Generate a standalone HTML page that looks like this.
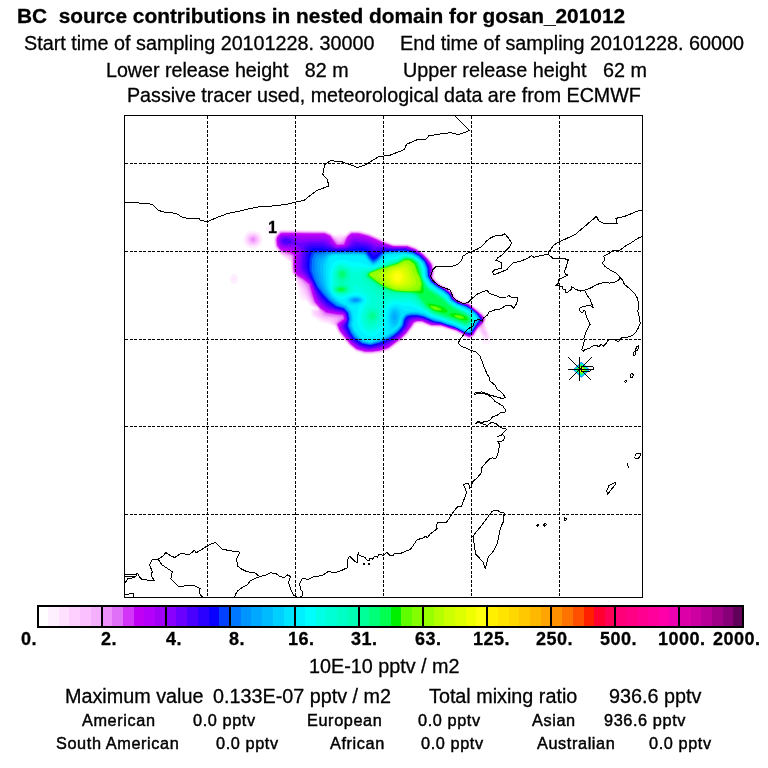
<!DOCTYPE html>
<html><head><meta charset="utf-8"><title>BC source contributions</title>
<style>
html,body{margin:0;padding:0;background:#fff;}
body{width:768px;height:768px;overflow:hidden;position:relative;font-family:"Liberation Sans",sans-serif;color:#000;}
.t{position:absolute;white-space:pre;line-height:1;margin:0;-webkit-text-stroke:0.3px #000;will-change:transform;}
.b{font-weight:bold;}
svg{position:absolute;left:0;top:0;}
</style></head><body>
<svg id="map" width="768" height="768" viewBox="0 0 768 768">
<!--PLUME0--><g id="plume" fill-rule="evenodd" stroke="none">
<path fill="#FFF0FF" d="M269.8 231.6 267.5 231.4 265.9 230.2 265.6 228.5 266.5 227.2 267.8 226.5 269.5 226.4 271.0 226.8 272.1 227.8 272.5 228.8 272.1 230.2 271.2 231.0ZM373.8 354.2 371.5 354.5 364.2 354.4 355.2 351.4 347.9 345.2 337.6 332.5 335.2 327.0 334.5 326.2 328.2 324.0 321.2 322.2 316.2 319.4 311.8 316.3 311.2 314.2 310.7 309.2 311.5 308.7 314.5 308.6 314.8 308.2 310.8 306.3 305.8 301.1 304.8 300.7 302.8 300.4 301.5 299.7 299.5 297.2 298.3 293.8 297.7 288.8 296.5 286.1 295.1 277.8 294.5 276.7 291.8 273.8 291.3 272.8 290.3 262.2 289.7 261.5 287.2 260.2 280.5 255.2 278.3 252.5 274.4 246.8 273.5 240.2 274.0 237.2 275.1 234.8 279.3 230.2 280.8 229.6 301.8 229.9 305.2 230.2 324.8 230.2 325.8 230.4 331.2 232.8 333.5 234.7 335.2 234.9 336.8 234.8 338.8 233.6 340.2 233.2 341.5 233.3 343.8 234.5 344.8 234.5 345.8 233.9 349.2 230.9 350.5 230.3 358.8 230.2 369.5 233.1 378.5 237.1 384.4 240.2 392.8 243.2 394.8 243.5 407.8 243.6 416.8 247.0 424.2 252.1 429.5 257.5 433.7 263.2 434.3 264.8 435.4 270.5 434.7 276.8 437.3 280.5 441.9 284.2 446.8 286.6 452.5 290.9 453.3 291.8 455.0 295.8 458.1 298.8 462.2 300.9 467.8 301.3 469.8 302.2 473.8 305.7 478.2 308.7 483.8 313.8 486.6 318.2 486.7 319.8 485.6 322.5 485.5 323.5 486.8 327.5 490.0 334.8 491.1 339.2 491.0 342.2 490.5 343.1 489.8 343.4 487.8 343.4 486.8 344.2 485.8 344.5 484.5 344.5 483.5 344.1 482.8 342.9 480.3 334.5 479.2 332.2 478.5 331.7 477.2 332.9 475.4 336.2 474.5 337.1 470.5 339.3 468.8 339.7 464.5 337.7 459.9 334.8 456.1 332.8 452.5 331.5 440.8 328.0 430.2 327.4 421.8 324.0 417.8 323.8 416.3 324.2 415.5 324.8 413.8 327.5 408.5 334.5 402.5 340.6 389.8 350.2 388.8 350.7 380.2 353.4ZM253.8 248.5 250.2 248.2 246.8 246.6 245.5 245.4 244.4 243.8 243.6 242.2 243.2 240.5 243.2 238.5 243.6 236.8 245.3 233.8 248.2 231.6 251.8 230.5 255.5 230.7 257.5 231.4 259.2 232.4 260.5 233.6 261.6 235.2 262.4 236.8 262.8 238.5 262.8 240.5 262.4 242.2 260.7 245.2 259.2 246.6 257.5 247.6ZM234.5 284.2 232.8 284.0 231.5 283.1 230.5 281.5 230.0 279.5 230.2 277.5 231.0 275.5 232.2 274.4 233.8 273.8 235.5 274.2 236.7 275.2 237.7 276.8 238.0 278.5 237.8 280.5 237.2 282.2 236.0 283.5Z"/>
<path fill="#FFE0FF" d="M372.8 353.8 364.5 353.9 355.2 350.8 348.5 345.2 339.2 333.8 337.7 331.8 335.6 326.8 334.8 325.8 328.2 322.5 321.8 320.8 314.5 316.3 313.2 315.2 312.1 311.5 312.2 310.2 312.8 309.8 316.5 309.3 316.8 309.1 316.8 308.5 315.4 307.5 311.2 305.5 304.8 297.7 302.2 295.9 301.2 294.5 300.4 292.5 299.9 289.2 297.8 285.7 295.5 277.5 291.8 272.8 291.0 262.5 290.7 261.5 281.1 254.8 278.7 252.2 275.0 246.8 274.0 240.2 274.4 237.5 275.2 235.5 279.5 230.7 280.8 230.2 301.8 230.3 305.2 230.7 324.8 230.7 331.2 233.4 333.5 235.4 337.8 236.0 340.2 235.4 342.8 235.6 344.8 235.3 345.8 234.7 349.3 231.5 350.5 230.8 358.8 230.7 369.5 233.6 378.2 237.4 384.5 240.7 393.2 243.8 394.8 244.0 407.5 244.1 416.5 247.4 423.8 252.5 429.2 257.8 433.1 263.2 433.9 265.2 434.9 270.5 434.1 276.8 434.6 277.8 436.9 280.8 441.5 284.5 446.5 287.0 452.2 291.2 452.9 292.2 454.5 296.0 457.7 299.2 462.2 301.5 467.5 301.7 469.5 302.6 473.5 306.0 477.8 309.1 483.5 314.2 486.2 318.5 486.2 319.8 485.1 322.2 484.9 323.5 485.9 328.2 488.1 333.2 489.0 336.5 489.1 339.2 488.8 339.8 488.2 340.2 486.2 339.9 484.8 340.4 484.5 340.2 479.9 331.2 479.2 330.4 478.5 330.5 477.5 331.5 475.0 335.8 474.2 336.7 470.5 338.7 468.8 339.1 464.8 337.4 459.8 334.2 455.2 331.9 443.4 328.2 440.2 327.4 430.5 327.0 421.8 323.5 417.5 323.4 416.2 323.7 415.2 324.4 413.4 327.2 408.1 334.2 402.2 340.2 389.8 349.6 388.5 350.3 380.2 352.9ZM254.8 246.5 251.8 246.6 249.2 245.8 246.8 243.9 245.5 241.5 245.2 238.8 246.1 236.2 247.8 234.1 250.5 232.7 253.5 232.3 256.5 233.0 259.0 234.8 260.5 237.5 260.8 240.5 259.7 243.2 257.5 245.4ZM234.5 280.3 233.5 280.3 233.0 279.5 233.1 278.2 233.8 277.6 234.5 277.7 235.0 278.5 235.0 279.5Z"/>
<path fill="#FDD0FF" d="M372.2 353.5 364.5 353.5 356.5 351.0 355.2 350.3 348.8 344.9 339.5 333.5 338.0 331.5 335.9 326.5 335.2 325.4 329.8 321.5 322.5 319.4 316.0 315.5 314.5 314.2 314.0 312.8 314.0 311.8 314.8 311.2 317.4 310.2 317.8 309.5 317.6 308.5 316.5 307.5 311.8 304.9 309.4 301.8 305.0 295.2 303.0 291.8 301.8 288.8 299.4 285.5 295.7 276.8 292.5 273.2 292.1 272.2 291.1 261.2 287.8 258.1 281.5 254.3 279.2 252.1 275.3 246.5 274.4 240.2 274.9 237.2 275.8 235.5 279.8 231.0 281.2 230.6 301.5 230.7 305.2 231.1 324.8 231.1 330.8 233.6 333.5 235.9 338.8 237.4 342.2 236.8 345.2 235.7 349.5 231.9 350.5 231.3 358.8 231.1 369.2 233.9 377.8 237.7 384.2 241.0 393.0 244.2 394.8 244.4 407.5 244.5 416.2 247.7 423.5 252.7 428.8 258.1 432.6 263.2 433.5 265.2 434.5 270.8 433.7 276.8 434.2 278.0 436.6 281.2 441.2 284.8 446.5 287.5 451.8 291.5 452.6 292.5 454.2 296.2 457.5 299.5 462.1 301.8 467.5 302.1 469.2 302.8 473.2 306.3 477.5 309.4 482.9 314.2 484.1 315.5 485.8 318.5 485.8 319.8 484.6 322.5 484.4 323.8 484.8 328.2 486.7 332.5 487.5 335.2 487.5 336.8 486.8 337.6 485.5 337.2 484.2 336.0 482.3 333.5 480.5 330.2 479.5 329.4 478.5 329.7 477.5 330.8 474.2 336.2 470.5 338.3 468.8 338.7 464.8 336.9 460.2 333.9 455.5 331.5 443.5 327.8 440.2 326.9 430.5 326.6 421.8 323.0 417.2 323.0 415.6 323.5 414.8 324.2 412.9 327.2 407.8 333.9 401.8 340.0 389.5 349.4 388.5 349.9 380.2 352.4ZM254.5 245.2 252.2 245.3 249.8 244.6 248.0 243.2 246.9 241.2 246.7 238.8 247.3 236.8 248.8 235.1 250.8 234.0 253.5 233.6 255.8 234.2 257.8 235.7 259.1 237.8 259.3 240.2 258.5 242.5 256.8 244.2Z"/>
<path fill="#FAC0FF" d="M371.8 353.2 364.5 353.1 356.8 350.7 355.5 350.1 349.2 344.8 339.8 333.4 338.3 331.2 335.8 325.5 331.8 320.5 330.5 319.9 323.2 318.0 318.9 315.5 317.3 314.2 317.1 313.5 318.4 310.5 318.2 308.5 317.2 307.4 312.7 304.5 311.7 303.5 306.5 294.8 303.5 288.4 300.8 284.9 295.9 276.5 292.8 272.8 292.2 269.2 291.7 261.8 291.2 260.1 288.5 257.2 282.5 254.2 279.8 252.2 275.7 246.5 274.8 240.2 275.3 237.5 276.2 235.6 280.2 231.3 281.2 231.0 324.8 231.5 330.8 234.1 332.8 236.1 333.8 236.7 338.2 238.7 339.5 239.0 341.5 238.4 345.2 236.3 350.5 231.7 352.2 231.5 358.8 231.5 369.2 234.3 377.8 238.1 384.2 241.4 392.8 244.5 394.8 244.8 407.5 244.9 415.8 248.0 423.4 253.2 428.5 258.3 432.4 263.5 433.1 265.2 434.2 270.8 433.3 276.2 433.3 277.2 436.4 281.5 441.1 285.2 446.2 287.7 451.5 291.7 452.2 292.5 453.9 296.5 457.3 299.8 461.8 302.1 467.5 302.5 469.2 303.3 472.9 306.5 477.2 309.6 482.8 314.5 483.8 315.8 485.4 318.5 485.4 319.8 484.0 323.2 483.6 327.8 483.8 328.8 485.5 332.3 485.8 333.8 485.7 334.5 484.8 334.6 483.8 333.8 482.5 331.9 481.1 329.2 480.5 328.7 479.5 328.7 478.4 329.2 477.2 330.5 473.8 336.0 470.8 337.7 469.2 338.3 468.2 338.1 465.2 336.6 460.5 333.7 455.5 331.1 441.5 326.8 430.8 326.3 421.8 322.7 418.2 322.6 416.2 322.9 414.6 323.8 412.7 326.8 407.5 333.7 401.8 339.4 389.5 348.9 388.2 349.6 380.2 352.0ZM253.5 244.2 251.5 244.0 249.8 243.2 248.6 241.8 248.0 240.2 248.0 238.5 248.8 236.8 250.3 235.5 252.2 234.9 254.2 234.9 256.2 235.8 257.4 237.2 258.0 238.8 257.9 240.8 256.9 242.5 255.5 243.6Z"/>
<path fill="#F5B0FD" d="M370.8 352.8 364.5 352.7 356.8 350.3 354.8 349.1 349.4 344.5 338.9 331.5 335.2 323.5 334.5 319.5 332.8 318.8 324.5 317.0 322.5 316.0 320.6 314.5 318.5 308.2 317.5 307.1 313.1 303.8 312.1 302.5 308.5 295.8 304.8 287.3 293.2 272.7 292.6 269.2 292.1 260.8 290.7 257.8 289.9 256.8 288.8 256.1 283.2 253.7 280.4 252.2 276.1 246.5 275.2 240.2 275.6 237.8 276.5 235.8 280.2 231.8 281.5 231.4 324.8 231.9 330.5 234.3 333.8 237.4 338.2 240.2 339.8 240.6 340.8 240.4 341.8 239.8 350.5 232.2 351.8 231.9 358.5 231.9 368.8 234.6 377.8 238.5 383.8 241.7 392.8 244.9 394.8 245.2 407.5 245.2 415.8 248.4 423.2 253.4 428.2 258.5 432.0 263.5 432.7 265.2 433.8 270.8 432.9 277.2 433.6 278.5 436.2 281.8 441.0 285.5 446.2 288.1 451.2 291.9 452.0 292.8 453.8 296.8 457.2 300.1 461.8 302.4 467.5 302.9 468.8 303.5 472.8 306.8 477.2 310.1 482.5 314.7 483.5 315.9 485.1 318.5 485.1 319.8 483.8 322.5 483.1 325.5 482.3 327.2 481.5 327.6 479.5 328.0 478.2 328.8 475.8 331.8 473.8 335.5 470.8 337.3 469.2 337.9 468.2 337.7 465.2 336.2 460.8 333.5 455.8 330.8 441.8 326.5 440.2 326.2 430.8 326.0 421.8 322.3 418.2 322.2 416.2 322.5 414.4 323.5 412.5 326.5 407.2 333.5 401.5 339.3 389.2 348.7 387.8 349.4 380.2 351.7ZM254.2 242.9 252.8 243.0 251.5 242.7 250.2 241.9 249.5 240.8 249.2 239.5 249.5 238.2 250.2 237.1 251.5 236.3 252.8 236.0 254.5 236.3 255.8 237.1 256.5 238.2 256.8 239.5 256.5 240.9 255.5 242.2Z"/>
<path fill="#EE90FA" d="M373.5 352.2 371.2 352.5 364.8 352.4 356.8 350.0 354.8 348.7 349.6 344.2 338.9 330.8 336.1 323.8 336.3 322.5 338.2 319.2 338.2 318.5 336.8 317.9 326.2 316.0 323.8 315.0 322.5 313.7 318.4 307.5 313.3 302.8 309.6 295.2 306.3 286.5 301.4 280.8 297.2 276.9 293.5 272.5 292.9 269.2 292.5 260.2 291.5 256.8 290.8 256.1 288.8 254.9 283.5 253.1 280.7 251.8 276.5 246.5 276.0 243.8 275.6 240.2 275.9 238.2 276.7 236.2 280.2 232.3 281.5 231.8 324.8 232.3 330.5 234.8 332.8 237.4 336.2 240.4 338.2 241.8 339.2 242.0 341.2 241.8 342.2 241.4 346.9 235.8 350.7 232.5 352.2 232.2 358.5 232.3 368.8 235.0 377.5 238.8 383.8 242.0 392.8 245.2 394.5 245.5 407.5 245.6 415.5 248.6 423.2 253.8 427.8 258.5 431.7 263.8 432.4 265.5 433.4 270.8 432.5 277.2 433.2 278.5 435.8 281.9 440.8 285.8 445.8 288.3 451.0 292.2 451.8 293.2 453.5 297.0 457.2 300.5 461.8 302.7 467.5 303.2 468.8 303.8 477.2 310.5 482.2 314.9 483.3 316.2 484.7 318.5 484.7 319.8 481.8 325.9 481.2 326.6 479.2 327.5 477.8 328.6 475.6 331.5 473.3 335.5 470.5 337.1 469.2 337.5 468.2 337.3 465.5 336.0 461.0 333.2 455.8 330.5 441.8 326.2 440.2 325.9 431.2 325.7 427.2 324.2 422.2 322.0 418.2 321.8 416.2 322.2 414.2 323.2 412.0 326.5 407.0 333.2 401.2 339.1 389.2 348.3 387.5 349.1 380.2 351.3ZM253.5 241.6 251.8 241.3 250.8 240.2 251.0 238.5 252.2 237.5 253.8 237.5 254.8 238.2 255.2 238.8 255.0 240.5 254.4 241.2Z"/>
<path fill="#E070F8" d="M373.2 351.9 371.2 352.1 364.8 352.0 357.2 349.7 354.8 348.2 349.8 343.8 340.5 332.5 338.8 329.8 336.8 324.8 336.7 323.8 337.5 322.6 341.5 318.5 341.7 317.8 341.3 317.2 338.8 316.4 328.8 315.0 325.5 314.2 321.2 310.2 318.5 307.0 314.2 302.6 311.0 295.2 307.8 285.5 302.5 280.2 297.5 276.6 293.8 272.2 293.3 269.2 293.0 263.8 293.0 260.2 292.5 256.2 291.5 255.2 289.2 253.9 283.8 252.5 280.8 251.4 277.0 246.5 276.4 244.2 276.0 240.5 276.2 238.5 276.9 236.5 280.5 232.6 281.8 232.2 324.8 232.7 330.3 235.2 336.5 242.2 337.8 243.2 339.2 243.4 342.9 242.8 346.9 236.5 350.8 232.9 352.2 232.6 358.5 232.7 368.5 235.2 377.5 239.2 383.8 242.4 392.8 245.6 394.5 245.8 407.5 245.9 415.2 248.8 422.8 254.0 427.7 258.8 431.4 263.8 432.0 265.5 433.1 270.8 432.2 277.2 432.8 278.5 435.6 282.2 440.4 285.8 445.8 288.6 450.8 292.4 451.6 293.5 453.2 297.0 456.8 300.6 461.5 302.8 467.2 303.5 468.5 304.0 476.8 310.6 482.1 315.2 484.4 318.5 484.4 319.8 482.2 324.4 480.8 325.8 478.8 327.1 477.5 328.5 475.3 331.5 473.2 335.2 470.5 336.8 469.2 337.2 465.5 335.7 461.0 332.8 455.9 330.2 449.2 328.3 441.8 325.8 440.2 325.6 431.2 325.4 427.2 323.9 422.2 321.6 418.2 321.5 416.2 321.8 413.8 322.9 411.8 326.2 406.8 332.8 401.2 338.6 389.1 347.8 387.5 348.7 380.2 350.9Z"/>
<path fill="#D235F8" d="M373.2 351.5 371.2 351.7 365.2 351.7 357.6 349.5 355.5 348.3 350.8 344.4 339.8 330.9 337.3 324.8 337.3 324.2 337.8 323.3 343.5 318.8 343.6 317.8 342.8 315.8 341.8 315.3 336.2 314.7 326.2 313.0 320.5 308.7 315.0 302.5 314.4 301.5 312.2 295.2 309.1 284.5 302.9 279.2 297.8 276.2 294.3 272.2 293.8 269.2 293.4 264.2 293.6 256.5 293.3 255.5 292.5 254.7 289.8 253.0 281.2 251.0 277.5 246.5 276.8 243.8 276.5 239.1 277.3 236.8 280.5 233.2 281.8 232.7 324.8 233.2 330.2 235.6 336.2 243.4 337.5 244.5 338.8 244.6 342.8 244.2 343.8 243.8 347.2 236.9 350.8 233.5 352.2 233.1 358.5 233.1 368.5 235.7 377.2 239.5 383.5 242.7 392.8 245.9 394.5 246.2 407.2 246.2 414.8 249.0 417.2 250.3 422.6 254.2 427.3 258.8 431.0 263.8 431.7 265.5 432.7 270.8 431.9 276.2 431.9 277.5 435.5 282.4 440.5 286.2 445.5 288.7 450.5 292.4 451.4 293.5 453.2 297.4 456.8 300.8 461.8 303.2 467.2 303.8 468.5 304.3 476.8 310.9 481.8 315.3 483.1 316.8 484.1 318.8 483.9 320.2 482.2 323.6 477.2 328.5 475.0 331.5 473.2 334.7 470.8 336.3 469.2 336.9 465.5 335.4 461.2 332.6 455.8 329.9 449.2 328.0 441.8 325.6 440.2 325.3 431.2 325.0 422.2 321.3 417.8 321.1 416.2 321.4 414.5 322.0 413.5 322.7 411.3 326.2 406.4 332.8 400.8 338.4 388.8 347.6 387.2 348.4 380.2 350.6Z"/>
<path fill="#C000F5" d="M372.5 351.2 365.2 351.2 356.8 348.7 350.5 343.5 341.3 332.2 339.6 329.5 338.2 325.8 337.9 324.5 338.7 323.5 344.3 319.2 344.4 317.8 343.3 314.8 342.5 314.5 336.5 313.9 326.7 312.2 320.8 308.2 315.8 302.5 315.1 301.2 312.9 294.8 309.8 284.1 303.5 278.7 297.9 275.5 294.8 271.8 294.0 263.8 294.5 256.5 294.1 254.8 293.2 253.9 290.2 252.0 281.5 250.2 277.8 245.8 277.2 243.2 276.9 240.2 277.1 238.8 277.9 236.8 280.7 233.8 281.8 233.4 286.2 233.3 301.8 233.4 304.5 233.7 324.8 233.8 329.8 236.2 333.8 241.9 336.1 244.5 337.2 245.2 338.5 245.3 343.5 244.9 344.3 244.5 347.5 237.4 348.5 236.3 351.2 234.1 352.5 233.7 358.2 233.8 368.1 236.2 377.3 240.2 383.2 243.0 392.5 246.2 394.2 246.5 407.2 246.5 414.4 249.2 416.8 250.5 422.5 254.5 427.2 259.2 430.6 263.8 431.4 265.8 432.4 270.8 431.6 275.8 431.6 277.5 432.8 279.5 435.3 282.5 440.1 286.2 445.5 289.0 450.2 292.5 451.2 293.7 453.0 297.5 456.5 300.9 461.5 303.3 467.2 304.0 468.2 304.5 479.1 313.2 482.2 316.2 483.8 318.8 483.6 320.2 482.0 323.2 477.5 327.6 474.9 331.2 473.0 334.5 470.8 336.0 469.2 336.5 465.5 335.1 461.4 332.5 456.2 329.7 448.8 327.7 441.8 325.3 440.2 325.0 431.5 324.8 427.5 323.3 422.5 321.0 418.2 320.8 416.2 321.0 414.2 321.7 413.2 322.4 410.8 326.1 406.1 332.5 400.5 338.2 388.7 347.2 386.8 348.1 380.0 350.2Z"/>
<path fill="#B400FA" d="M371.8 350.8 365.5 350.8 358.5 348.8 357.0 348.2 350.8 343.2 341.8 331.9 340.2 329.3 338.9 325.8 338.7 324.8 339.4 323.8 344.8 319.5 344.9 317.8 343.8 314.5 342.5 313.9 334.5 312.9 327.2 311.4 321.2 307.5 317.1 302.8 316.0 301.2 314.9 298.2 310.8 284.8 310.2 283.5 303.8 277.9 298.5 274.8 295.9 271.5 295.4 268.8 295.1 263.8 295.7 256.2 295.6 254.8 295.2 253.8 293.2 252.0 290.8 250.6 282.2 249.0 279.8 246.9 278.7 245.5 277.9 242.8 277.7 239.2 278.5 237.3 280.8 234.8 282.2 234.2 286.2 234.1 303.8 235.1 324.2 235.0 328.9 236.8 333.3 242.5 335.8 245.2 336.8 245.8 338.2 245.9 343.5 245.6 344.7 245.2 345.4 244.2 348.5 237.8 351.8 235.2 353.2 234.9 357.5 234.9 367.7 237.2 383.2 243.7 392.5 246.6 394.2 246.8 407.2 246.9 413.8 249.3 416.3 250.5 422.2 254.6 426.8 259.2 430.2 263.9 431.1 265.8 432.0 270.8 431.3 275.8 431.3 277.5 432.5 279.4 435.0 282.5 439.8 286.2 445.4 289.2 450.2 292.8 451.0 293.8 452.8 297.7 456.6 301.2 461.5 303.4 467.2 304.3 468.2 304.8 478.7 313.2 481.9 316.2 483.5 318.8 483.3 320.2 481.8 322.9 477.5 327.2 474.6 331.2 472.8 334.2 471.5 335.3 469.2 336.2 465.5 334.7 461.3 332.2 456.2 329.5 449.2 327.5 441.8 325.0 431.2 324.3 422.2 320.5 417.8 320.4 415.8 320.7 413.8 321.3 412.6 322.2 410.1 326.2 405.8 332.2 400.2 337.8 388.2 346.8 386.8 347.5 379.8 349.7Z"/>
<path fill="#A000F5" d="M371.8 350.2 365.5 350.1 357.5 347.7 351.2 342.6 345.5 335.5 341.4 329.8 339.8 325.5 340.2 324.5 344.5 320.7 345.4 319.5 345.5 318.5 345.2 316.8 344.6 314.8 343.9 313.8 340.2 312.9 332.5 311.7 327.5 310.4 321.8 306.6 317.8 302.0 316.8 300.4 314.5 294.6 311.3 284.5 310.6 283.2 304.2 277.0 299.2 273.5 297.4 270.8 297.0 268.5 296.7 263.5 297.3 254.8 297.1 253.5 296.5 252.4 294.8 250.7 292.5 249.2 290.8 248.7 283.2 247.8 280.8 246.3 279.5 244.8 278.6 242.5 278.5 239.5 279.2 237.7 281.2 235.8 282.8 235.1 286.8 235.0 291.2 235.3 298.2 236.6 303.2 237.1 312.2 236.8 324.1 236.8 327.8 238.2 332.5 243.2 335.4 245.8 336.5 246.4 337.8 246.5 344.8 245.9 346.0 244.8 349.5 239.2 350.4 238.2 353.2 236.7 357.2 236.7 367.2 238.7 374.8 242.0 392.5 247.1 406.8 247.2 413.5 249.5 416.2 250.8 422.0 254.8 426.6 259.5 429.8 264.1 430.7 266.2 431.5 270.8 431.0 275.5 431.1 277.5 432.5 279.8 434.8 282.7 439.9 286.5 445.2 289.3 449.8 292.8 450.7 293.8 452.8 298.0 456.5 301.3 461.5 303.6 466.8 304.5 468.2 305.1 478.4 313.2 481.8 316.5 483.1 318.8 482.9 320.2 481.5 322.7 477.5 326.7 474.5 330.8 472.5 334.2 470.8 335.3 469.2 335.8 465.5 334.4 456.2 329.2 448.9 327.2 441.8 324.8 431.5 324.0 422.2 320.1 417.2 319.9 414.2 320.5 412.6 321.2 411.6 322.2 408.0 328.2 405.2 332.0 403.1 334.2 399.3 337.8 391.8 343.5 387.2 346.6 382.6 348.2 379.5 349.0Z"/>
<path fill="#8A00FF" d="M371.5 349.5 365.8 349.4 358.5 347.2 352.2 342.5 350.3 340.5 343.2 330.8 342.0 328.8 341.1 326.5 341.1 325.5 341.4 324.8 345.2 320.8 346.0 319.5 345.8 317.5 344.6 313.8 343.8 313.2 342.5 312.7 334.5 311.3 327.8 309.2 322.8 305.7 319.2 301.6 317.8 299.7 315.5 294.5 311.2 283.0 304.8 276.1 300.5 272.5 299.2 270.2 298.8 268.2 298.6 263.5 299.2 253.8 298.9 252.2 298.2 250.5 296.3 248.5 293.8 247.2 291.8 246.9 284.5 246.6 282.8 246.0 281.2 245.0 279.8 243.2 279.3 240.2 279.7 238.5 281.2 237.0 283.2 236.0 288.2 236.0 291.8 236.8 298.5 239.0 302.5 239.6 311.8 238.8 323.8 238.9 326.8 240.0 331.3 243.8 334.9 246.5 336.2 247.1 337.5 247.2 344.2 246.9 345.5 246.5 347.1 245.2 351.8 239.6 353.8 238.7 356.8 238.6 366.8 240.4 369.5 241.4 375.2 244.1 383.8 245.6 392.2 247.5 406.5 247.7 413.3 249.8 416.0 251.2 421.5 254.8 426.2 259.5 427.6 261.5 429.8 265.1 430.6 267.5 431.0 271.2 430.6 275.5 430.8 277.5 432.4 280.2 434.7 282.8 440.1 286.8 445.2 289.5 449.8 293.1 450.7 294.2 452.5 297.9 456.0 301.2 458.2 302.4 461.5 303.8 466.8 304.8 467.8 305.2 477.0 312.2 481.4 316.5 482.6 318.5 482.6 319.8 481.4 322.2 477.3 326.5 472.4 333.8 471.2 334.8 469.2 335.4 465.5 334.1 456.2 329.0 448.6 326.8 441.5 324.4 431.5 323.6 422.2 319.6 416.8 319.2 413.2 320.0 411.8 320.6 410.6 321.8 407.3 327.8 402.8 333.5 398.9 337.2 391.5 342.8 386.8 345.7 382.5 347.3 379.2 348.2Z"/>
<path fill="#6A00FF" d="M370.2 348.8 365.8 348.5 359.1 346.5 352.8 342.0 350.8 340.0 345.5 332.5 343.2 328.8 342.4 326.8 342.6 325.2 345.8 320.9 346.5 319.5 346.2 317.2 345.0 313.5 343.8 312.5 342.2 311.8 334.5 310.3 328.6 308.2 324.2 305.2 321.6 302.5 319.4 299.8 317.8 297.0 314.5 290.0 311.6 282.5 305.8 275.5 302.7 272.2 301.1 269.8 300.7 267.8 300.6 263.8 301.4 252.5 300.9 249.8 299.8 247.4 298.2 245.6 295.8 244.7 293.5 244.7 287.2 245.3 284.8 245.2 283.2 244.5 281.5 243.2 280.6 241.5 280.7 239.5 281.7 238.2 282.8 237.5 284.5 237.1 286.8 237.1 289.1 237.5 292.5 238.8 297.2 242.0 299.5 242.7 302.8 242.6 311.5 241.0 323.5 241.1 325.5 241.7 334.1 247.2 336.5 247.9 344.2 247.6 345.8 247.3 348.2 245.8 353.5 241.2 354.5 240.8 355.8 240.7 366.8 242.4 370.2 243.7 375.2 246.5 383.2 246.6 393.2 248.3 406.2 248.1 413.2 250.2 415.8 251.6 420.9 254.8 425.7 259.5 426.9 261.2 429.2 264.9 430.0 267.2 430.5 271.2 430.2 275.5 430.5 277.5 432.1 280.2 434.4 282.8 439.8 286.9 445.2 289.8 449.5 293.2 450.5 294.3 452.5 298.2 455.8 301.2 457.8 302.5 461.2 303.8 466.5 305.0 467.8 305.5 476.8 312.3 481.0 316.5 482.2 318.5 482.2 319.8 481.0 321.8 477.2 326.2 472.2 333.6 470.8 334.6 469.2 335.0 465.5 333.8 455.8 328.6 448.2 326.4 441.5 324.1 431.8 323.1 422.2 319.0 416.8 318.5 412.5 319.3 410.8 320.1 409.6 321.2 406.7 327.2 402.4 332.8 398.8 336.2 393.5 340.3 386.8 344.6 383.5 345.9 379.2 347.3Z"/>
<path fill="#4A00FF" d="M286.8 243.8 284.8 243.6 283.2 242.4 282.6 241.5 282.5 240.5 283.2 239.2 285.2 238.6 287.8 238.8 290.1 239.8 291.4 241.2 291.7 242.2 291.1 242.8 289.5 243.5ZM371.2 347.9 369.5 348.0 366.5 347.7 360.5 346.1 357.8 344.6 352.2 340.2 347.5 333.9 343.7 327.2 343.8 325.5 346.5 321.0 347.0 319.5 346.6 316.5 345.5 313.2 344.2 312.0 342.5 311.1 334.8 309.4 328.8 306.8 324.5 303.5 319.8 297.9 315.2 289.5 312.2 282.2 304.9 272.2 302.9 268.5 302.7 264.2 303.0 258.5 303.8 252.2 303.7 246.8 304.5 245.7 307.8 244.2 311.2 243.5 322.2 243.3 324.5 243.9 334.2 248.3 336.2 248.7 338.5 248.8 344.8 248.4 346.8 248.0 349.3 246.8 354.8 243.4 356.5 243.0 364.8 244.0 367.5 244.7 370.2 246.0 373.8 248.8 374.8 249.2 383.5 247.7 392.8 248.8 405.8 248.6 413.2 250.7 415.8 252.1 420.5 255.0 425.2 259.6 426.4 261.2 428.7 265.2 429.5 267.5 429.9 271.8 429.7 275.5 430.0 277.2 431.7 280.2 434.1 282.8 439.5 286.9 444.9 289.8 449.5 293.5 450.3 294.5 452.5 298.5 456.2 301.7 461.2 304.0 467.2 305.5 472.5 309.2 477.5 313.2 480.9 316.8 481.8 318.5 481.7 319.8 480.7 321.5 477.2 325.6 471.8 333.5 470.8 334.2 469.5 334.5 465.8 333.6 458.2 329.5 454.8 328.0 448.2 326.1 441.2 323.7 434.5 323.1 432.2 322.6 422.8 318.6 416.8 317.8 411.8 318.5 409.8 319.4 408.6 320.5 405.9 326.8 401.8 332.2 398.5 335.4 393.5 339.2 388.8 342.3 383.5 344.9 379.2 346.3Z"/>
<path fill="#2C00FF" d="M371.5 346.9 369.8 347.1 367.5 346.8 361.2 345.4 358.5 343.9 352.7 339.5 348.4 333.5 345.1 327.2 345.1 325.5 347.2 321.0 347.6 319.2 346.7 314.5 346.0 312.8 344.2 311.1 342.8 310.3 335.2 308.5 329.2 305.3 326.7 303.5 324.5 301.4 319.8 295.4 315.8 288.8 312.7 281.8 307.0 272.5 305.0 267.2 304.8 265.2 305.3 257.5 307.0 248.8 307.5 247.8 308.4 247.2 310.5 246.2 312.5 245.8 321.2 245.8 333.5 249.2 338.2 249.6 346.8 249.0 349.9 248.2 355.8 245.9 358.2 245.7 364.8 246.2 367.5 246.9 369.8 248.3 373.2 251.8 374.2 252.4 375.2 252.2 382.3 249.2 383.8 248.8 393.2 249.5 405.5 249.2 412.9 251.2 420.2 255.3 425.9 261.2 428.2 265.5 428.9 267.5 429.4 276.5 430.7 279.2 432.7 281.8 437.5 285.8 444.5 289.9 449.2 293.6 450.2 294.7 452.5 298.9 455.8 301.7 457.8 302.9 461.2 304.2 467.1 305.8 473.1 309.8 477.2 313.2 480.7 317.2 481.3 318.5 481.3 319.5 480.5 320.8 477.2 325.0 471.8 332.9 470.8 333.8 469.5 334.1 465.8 333.3 454.8 327.7 447.8 325.7 441.2 323.4 434.5 322.6 432.5 322.1 422.8 317.9 417.2 317.0 411.5 317.5 409.0 318.5 407.8 319.4 406.8 321.2 405.1 326.2 404.1 327.8 400.2 332.7 394.5 337.4 389.2 341.0 383.3 343.8 379.2 345.2Z"/>
<path fill="#0A00FF" d="M371.5 345.9 369.8 346.2 368.5 346.0 361.5 344.4 359.2 343.1 353.2 338.7 349.1 332.8 346.3 326.8 346.4 325.2 347.8 321.2 348.1 319.2 347.2 314.2 346.4 312.5 344.5 310.5 343.2 309.5 335.5 307.5 328.2 302.7 325.2 299.8 321.8 295.9 316.7 288.5 308.5 272.2 307.2 266.2 307.5 257.8 309.5 250.8 310.0 249.8 310.8 249.1 313.2 248.3 319.5 248.2 333.2 250.2 337.8 250.5 347.5 249.9 358.5 248.2 365.2 248.5 366.8 248.9 368.2 249.8 372.5 255.2 373.8 256.0 375.2 255.6 382.5 250.7 384.2 250.0 393.2 250.1 405.5 249.7 412.8 251.6 419.8 255.6 425.6 261.5 428.4 267.8 428.9 276.2 430.4 279.2 432.3 281.8 437.2 285.9 444.5 290.1 449.1 293.8 449.9 294.8 452.4 299.2 455.8 301.9 457.8 303.1 461.2 304.4 466.8 306.1 473.1 310.2 477.2 313.5 480.2 317.2 480.9 318.5 480.4 320.2 476.8 324.9 471.7 332.5 470.8 333.4 469.5 333.7 465.8 332.9 454.8 327.5 447.8 325.4 440.8 323.0 434.8 322.2 432.8 321.6 423.2 317.4 417.5 316.2 410.8 316.6 408.2 317.5 406.9 318.5 405.6 320.8 404.3 325.5 403.4 327.2 399.8 331.8 394.2 336.5 388.8 340.0 382.8 342.9 380.2 343.8Z"/>
<path fill="#0040FF" d="M370.8 345.2 368.2 345.1 361.8 343.6 353.5 337.8 350.0 332.5 347.4 326.2 347.4 324.8 348.7 319.2 347.7 313.8 346.9 312.2 343.5 308.7 335.8 306.5 329.2 301.6 322.2 294.2 317.2 287.6 312.5 277.8 309.7 270.8 309.4 266.2 309.7 258.8 311.7 252.8 312.8 251.2 314.8 250.8 337.8 251.2 354.2 250.5 365.2 250.7 366.7 251.5 370.6 257.2 372.5 259.0 373.5 259.5 376.2 258.2 383.0 251.8 384.8 250.9 405.2 250.3 412.5 252.0 419.5 255.8 425.1 261.5 427.8 267.8 428.4 276.2 430.0 279.2 431.9 281.8 436.8 285.9 444.2 290.2 448.8 294.0 449.8 295.2 452.1 299.2 453.6 300.5 457.8 303.3 466.2 306.2 471.4 309.2 476.5 313.2 480.4 318.2 480.5 318.8 480.0 319.8 471.8 331.8 470.8 333.0 469.5 333.3 465.8 332.6 454.8 327.2 447.8 325.1 440.5 322.5 434.2 321.5 423.2 316.8 417.5 315.5 411.8 315.5 409.9 315.8 407.2 316.7 406.2 317.4 404.5 320.5 403.6 324.8 402.9 326.5 399.2 331.3 393.8 335.7 388.2 339.4 382.2 342.1 379.8 342.9Z"/>
<path fill="#0078FF" d="M371.2 344.5 368.8 344.6 362.2 343.0 354.2 337.4 350.7 332.2 348.2 326.2 348.1 324.8 349.2 318.8 348.3 313.8 347.6 312.2 343.8 308.1 336.2 305.7 329.5 300.5 323.2 293.5 318.2 286.9 314.5 279.2 311.6 270.5 312.0 259.5 313.8 254.3 314.5 253.4 315.5 253.1 326.2 252.0 331.8 251.8 353.5 251.4 364.5 251.8 365.8 252.3 369.8 258.2 372.5 260.8 373.5 261.2 376.8 259.3 383.4 252.5 385.2 251.5 396.2 250.9 405.2 250.8 412.5 252.5 419.2 256.2 424.8 261.8 427.4 268.2 428.0 276.2 430.0 279.8 431.8 282.2 436.8 286.3 444.1 290.5 448.6 294.2 449.5 295.2 451.8 299.2 452.8 300.2 457.5 303.4 466.2 306.5 471.4 309.5 476.5 313.5 479.9 318.2 480.0 318.8 479.5 319.8 471.5 331.7 470.5 332.7 469.2 333.0 465.5 332.2 454.8 326.9 447.9 324.8 440.2 322.1 434.5 321.2 423.2 316.2 417.5 314.9 411.8 314.9 409.7 315.2 406.8 316.0 405.8 316.6 403.8 320.1 402.9 324.8 402.4 326.2 398.7 330.8 394.5 334.4 388.2 338.5 382.2 341.2 379.5 342.2Z"/>
<path fill="#0094FF" d="M370.2 344.2 368.5 344.0 362.2 342.4 354.5 336.6 351.2 331.5 348.9 325.8 348.9 324.5 349.9 318.8 348.9 313.5 348.2 311.8 345.5 308.7 344.2 307.6 336.5 304.8 330.2 299.8 324.0 292.5 320.2 286.8 316.8 278.8 314.4 270.2 314.8 260.2 315.7 257.2 316.5 255.8 326.2 253.1 332.2 252.4 353.2 252.1 364.2 252.4 365.2 252.8 365.8 253.4 368.8 257.9 370.5 259.8 372.5 261.7 373.5 262.0 374.8 261.5 377.2 259.8 383.6 253.2 385.2 252.1 396.2 251.3 405.2 251.2 412.2 252.8 418.9 256.5 424.3 261.8 427.0 268.2 427.7 276.5 431.3 282.2 436.8 286.6 444.0 290.8 448.5 294.5 449.5 295.7 451.6 299.5 452.7 300.5 457.5 303.7 465.5 306.6 471.2 309.7 476.2 313.6 479.5 318.2 479.5 318.8 479.0 319.8 471.5 331.2 470.5 332.3 469.2 332.7 465.5 331.9 454.5 326.5 447.8 324.5 440.2 321.7 435.5 320.9 433.5 320.3 423.5 315.9 417.5 314.4 411.8 314.3 409.5 314.6 406.5 315.5 405.5 316.2 403.5 319.5 402.5 324.5 402.0 325.8 398.3 330.5 393.5 334.4 387.8 338.0 381.5 340.8 378.5 341.9Z"/>
<path fill="#00A8FF" d="M371.2 343.6 368.8 343.6 362.5 341.9 355.2 336.2 351.9 331.5 349.7 325.8 349.6 324.5 350.5 318.8 349.7 313.5 348.8 311.5 344.8 307.3 337.2 304.1 330.9 299.2 329.1 297.2 323.8 289.8 321.3 284.8 319.7 280.2 317.4 270.5 317.2 267.8 317.6 260.8 318.2 258.9 319.2 258.0 326.4 254.2 332.5 253.0 352.8 252.7 363.5 253.0 364.5 253.2 365.5 253.9 369.8 259.8 372.2 262.1 373.5 262.6 374.8 262.2 377.5 260.4 384.1 253.5 385.5 252.6 396.5 251.8 405.2 251.7 411.8 253.2 418.6 256.8 424.0 262.2 426.5 268.2 427.3 276.5 431.1 282.5 436.8 287.0 443.8 291.2 448.2 294.7 449.1 295.8 451.2 299.5 452.5 300.8 457.5 304.0 465.2 306.8 471.2 310.1 476.2 314.1 479.0 318.2 478.8 319.5 475.8 323.8 472.8 328.8 470.5 331.8 469.2 332.4 465.2 331.4 454.5 326.2 447.8 324.2 440.2 321.4 433.5 319.8 423.5 315.4 417.2 313.8 412.2 313.8 409.5 314.1 406.5 314.9 405.2 315.9 403.0 319.5 402.1 324.2 401.5 325.6 397.8 330.2 393.8 333.4 387.8 337.2 382.2 339.9 378.8 341.2ZM356.9 301.2 357.6 300.8 358.2 300.2 357.9 299.5 357.2 299.1 354.8 298.9 353.8 299.2 353.1 299.8 353.2 300.5 354.2 301.2 355.5 301.3Z"/>
<path fill="#00BCFF" d="M370.8 343.2 369.0 343.2 362.8 341.5 355.8 335.8 352.6 331.2 350.5 325.8 350.4 324.5 351.3 318.8 350.4 313.5 349.6 311.5 345.4 306.8 337.5 303.3 331.5 298.4 329.9 296.5 325.1 289.2 322.8 283.5 321.2 276.8 320.1 269.2 320.2 263.5 320.5 261.9 321.1 260.8 325.6 256.2 326.9 255.2 330.1 254.2 333.5 253.5 353.2 253.3 363.8 253.7 365.5 254.6 368.2 258.7 369.8 260.6 372.2 262.7 373.5 263.2 374.8 262.8 377.8 260.8 384.2 254.2 385.8 253.1 396.5 252.3 405.2 252.2 412.2 253.8 418.2 257.2 423.6 262.5 426.1 268.2 426.8 276.5 429.3 280.8 430.8 282.8 436.5 287.3 443.5 291.4 448.1 295.2 448.9 296.2 450.9 299.8 452.2 301.0 457.2 304.2 465.2 307.2 471.0 310.5 475.8 314.3 478.5 318.2 478.3 319.5 475.3 323.8 472.5 328.6 470.4 331.5 469.8 331.9 468.8 332.0 465.2 331.1 454.5 325.9 447.8 323.8 440.2 321.0 435.5 319.9 431.2 318.5 423.5 314.8 417.2 313.3 412.2 313.2 409.5 313.6 406.2 314.5 404.8 315.6 402.6 319.2 401.6 324.2 401.0 325.5 397.5 329.7 393.5 333.0 387.5 336.7 382.8 338.9 378.5 340.8ZM357.7 301.8 359.0 301.2 359.7 300.2 359.2 299.2 357.8 298.4 355.8 298.1 353.8 298.3 352.4 298.8 351.4 299.8 351.6 300.8 353.2 301.8 355.5 302.2ZM395.0 320.2 396.2 318.9 396.6 316.5 395.8 314.3 395.2 313.7 394.5 313.6 393.8 313.8 393.2 314.5 392.7 315.8 392.6 317.2 392.8 318.5 393.5 319.7 394.2 320.2Z"/>
<path fill="#00D0FF" d="M371.5 342.5 369.5 342.7 363.2 341.0 359.1 337.8 356.2 335.2 353.2 330.8 351.2 325.8 351.1 324.5 352.0 318.8 351.2 313.5 350.5 311.5 346.1 306.5 338.2 302.6 332.2 297.8 331.1 296.5 326.9 289.5 325.7 286.2 323.9 279.2 323.1 272.5 323.0 265.8 323.3 263.8 325.4 259.5 326.9 256.8 328.2 255.7 332.2 254.3 333.8 254.1 353.2 253.9 361.5 254.1 363.8 254.3 365.3 255.2 369.5 261.1 372.2 263.4 373.5 263.8 375.2 263.2 378.2 261.3 384.7 254.5 386.2 253.6 396.5 252.8 405.2 252.7 411.8 254.2 417.8 257.5 421.5 260.8 423.3 262.8 425.6 268.2 426.3 276.5 430.2 282.8 436.2 287.5 443.2 291.7 447.8 295.5 450.6 300.2 451.7 301.2 456.8 304.5 465.2 307.7 470.8 310.8 475.5 314.6 478.0 318.2 477.7 319.5 474.9 323.5 472.2 328.4 470.1 331.2 468.8 331.7 465.2 330.8 454.5 325.5 447.1 323.2 440.2 320.6 431.2 318.0 423.8 314.4 417.2 312.7 412.2 312.6 409.5 313.0 406.2 313.9 404.5 315.3 402.1 318.8 401.2 323.7 400.6 325.2 397.2 329.2 393.2 332.5 387.5 336.0 383.0 338.2 378.5 340.2ZM356.4 302.8 358.8 302.2 360.5 301.2 360.9 299.8 360.3 298.8 357.8 297.7 354.8 297.4 351.8 298.1 350.1 299.5 350.0 300.8 351.5 302.2 353.8 302.8ZM395.0 324.5 396.5 323.5 397.5 321.9 398.2 319.5 398.8 315.5 398.3 313.5 397.3 311.8 395.8 310.7 394.5 310.5 392.8 311.1 391.7 312.5 390.9 314.8 390.6 317.5 391.1 320.5 392.0 322.8 393.5 324.3Z"/>
<path fill="#00E4FF" d="M370.5 342.2 369.2 342.1 363.5 340.5 359.5 337.2 356.8 334.6 353.9 330.5 352.0 325.5 352.8 319.2 352.0 313.2 351.4 311.5 346.8 306.1 338.8 302.0 332.9 297.2 331.9 295.8 328.2 289.2 327.3 286.2 326.1 279.2 325.7 273.2 325.7 267.8 326.1 264.8 327.4 259.5 328.3 257.2 329.5 256.2 332.5 255.0 334.2 254.7 360.8 254.7 363.5 255.0 364.5 255.3 365.0 255.8 369.1 261.5 371.8 263.9 373.5 264.6 375.5 263.7 378.5 261.8 384.9 255.2 386.5 254.2 396.2 253.4 405.2 253.3 411.8 254.8 417.8 258.2 421.1 261.2 422.8 263.2 425.1 268.5 425.8 276.5 429.8 283.2 435.8 287.9 442.8 292.1 447.4 295.8 450.2 300.3 451.4 301.5 456.5 304.8 465.0 308.2 470.5 311.2 475.2 314.9 477.4 318.2 477.2 319.4 474.4 323.5 471.5 328.5 469.7 330.8 468.5 331.2 464.8 330.2 459.5 327.4 454.5 325.1 439.8 320.0 431.4 317.5 424.2 313.9 417.2 312.0 412.2 312.0 409.8 312.3 405.8 313.4 404.1 314.8 401.5 318.5 400.5 323.7 400.0 324.8 396.8 328.6 392.5 332.2 387.5 335.2 382.8 337.5 377.6 339.8ZM357.3 303.5 360.2 302.5 361.2 301.8 362.0 300.8 362.1 299.8 361.9 299.2 361.2 298.4 359.8 297.6 356.5 296.8 353.2 296.9 350.5 297.8 349.4 298.5 348.6 299.5 348.3 300.5 348.7 301.5 350.5 303.0 353.5 303.7ZM393.4 327.8 395.8 326.6 398.3 323.8 398.9 322.2 400.8 314.5 400.4 312.5 398.9 310.2 397.2 308.8 395.2 308.1 393.1 308.5 391.2 310.1 389.9 312.5 389.2 315.8 389.3 320.8 390.2 324.8 391.6 327.5 392.5 327.9Z"/>
<path fill="#00F0FF" d="M370.2 341.2 363.8 339.4 360.2 336.3 357.8 333.8 355.1 330.2 353.3 325.5 353.9 318.8 353.3 312.8 352.6 310.8 347.5 304.6 339.7 301.2 333.8 296.5 332.2 294.1 329.6 289.2 328.9 285.8 328.1 278.2 328.1 273.5 328.7 265.2 329.8 258.1 330.8 257.2 332.9 256.2 334.5 255.8 342.8 255.7 360.8 256.0 363.5 256.4 364.5 257.2 368.2 262.2 371.5 264.8 373.5 265.5 374.8 265.0 378.8 262.7 385.5 256.1 386.8 255.2 405.2 253.9 411.8 255.4 417.5 258.6 420.7 261.5 422.3 263.5 424.5 268.5 425.2 276.8 427.1 280.2 429.5 283.8 435.5 288.4 442.3 292.5 446.8 296.1 447.7 297.2 449.8 300.8 451.0 301.8 456.5 305.4 464.8 308.7 470.3 311.8 474.8 315.5 476.5 318.2 476.4 319.2 471.2 327.8 469.2 330.3 467.8 330.4 465.2 329.7 454.8 324.7 439.8 319.3 431.6 316.8 425.5 313.6 420.5 311.9 417.2 311.0 412.2 310.8 405.5 311.6 403.3 309.8 398.2 306.6 395.8 305.9 393.8 306.0 391.8 306.9 390.2 308.5 388.9 310.5 388.1 313.2 387.6 316.2 387.5 321.2 388.1 332.2 388.0 332.8 385.4 334.8 378.0 338.5ZM354.6 305.2 359.2 304.0 362.0 302.5 363.0 301.5 363.4 300.5 363.4 299.5 362.8 298.5 361.5 297.4 359.5 296.6 357.2 296.1 354.8 295.9 352.5 296.2 350.2 296.9 348.4 297.8 346.9 299.2 346.2 300.5 346.3 301.8 346.8 303.1 347.8 304.2 348.8 304.7 350.8 305.2Z"/>
<path fill="#00FFFC" d="M372.5 336.2 370.2 336.4 367.8 335.9 365.8 335.1 363.4 333.5 361.5 331.6 359.7 329.2 358.5 326.8 357.6 324.2 357.2 320.8 357.2 316.2 358.5 307.8 359.4 306.2 363.2 303.2 364.6 301.5 365.0 299.8 364.2 298.1 362.5 296.7 360.2 295.6 357.2 294.9 354.5 294.8 349.8 295.8 346.6 297.2 342.8 299.3 341.2 299.4 338.8 298.3 334.5 295.3 332.8 293.2 331.4 290.8 330.4 287.5 330.5 283.2 330.1 277.5 330.3 273.5 331.1 268.8 331.9 266.2 334.5 262.0 336.2 260.7 338.8 259.9 341.8 259.7 344.8 260.1 352.8 262.3 355.5 262.4 360.2 262.0 366.2 264.9 370.9 266.5 373.2 266.8 374.5 266.4 379.6 263.8 386.8 258.6 388.2 257.9 394.8 256.8 404.8 254.6 410.5 255.5 412.8 256.3 417.5 259.2 420.0 261.5 421.7 263.8 423.6 268.5 424.5 276.8 426.4 280.5 429.2 284.5 434.8 288.8 441.5 293.0 445.2 295.7 446.8 297.3 449.8 301.5 452.5 303.5 456.2 305.9 465.2 309.7 468.2 311.3 470.8 313.1 473.7 315.8 475.1 318.5 474.5 320.8 470.8 326.5 468.5 328.8 466.5 329.0 465.2 328.6 454.8 323.8 431.8 315.9 426.5 312.7 422.8 311.2 417.2 308.2 409.5 305.9 404.2 305.6 397.2 303.8 394.2 303.8 392.2 304.4 390.2 305.6 388.7 307.2 387.4 309.5 386.3 313.2 384.8 324.3 383.9 327.2 382.6 329.5 380.5 332.0 377.8 334.1 375.5 335.4Z"/>
<path fill="#00FFE4" d="M372.5 331.9 370.5 332.1 368.8 331.8 365.5 330.0 363.9 328.5 362.5 326.5 361.5 324.5 361.0 322.5 360.6 316.8 361.5 311.5 363.2 306.8 366.4 302.5 367.1 300.8 366.9 298.8 365.6 296.8 363.2 295.0 360.5 293.4 358.5 292.5 356.8 292.2 354.5 292.6 344.2 296.2 341.8 296.6 339.5 296.4 337.2 295.7 335.2 294.5 333.5 292.8 332.3 290.8 331.6 289.2 331.4 287.5 332.2 282.8 331.9 276.5 332.3 272.8 333.0 270.2 334.4 267.5 336.2 265.2 337.8 263.9 340.5 263.2 343.8 263.4 346.2 264.0 351.5 266.5 353.5 267.1 358.5 266.6 369.5 267.9 372.5 267.9 374.4 267.5 380.2 264.8 388.5 259.9 395.5 258.3 404.2 255.4 405.5 255.3 407.8 255.6 412.8 256.8 418.2 260.3 419.6 261.8 420.9 263.8 422.8 268.5 423.8 276.8 425.8 280.8 428.7 285.2 431.8 287.7 444.5 296.1 446.3 297.8 449.5 301.8 452.8 304.3 456.2 306.4 467.5 311.7 470.2 313.5 472.6 315.8 474.1 318.5 473.6 320.8 470.8 325.1 468.2 327.6 467.2 327.9 466.2 327.8 454.4 322.8 432.2 315.1 426.8 311.7 423.5 310.3 418.2 306.4 410.4 302.5 408.5 302.1 403.8 302.2 397.2 301.4 394.2 301.5 391.8 302.0 389.9 302.8 388.1 304.2 386.6 305.8 385.6 307.5 384.8 309.5 383.3 319.5 382.5 322.2 381.3 324.8 379.5 327.5 377.5 329.5 375.2 331.0Z"/>
<path fill="#00FFD4" d="M372.2 328.5 369.5 328.5 366.7 326.8 364.6 324.2 363.5 320.8 363.3 316.2 364.2 312.2 366.3 308.2 370.5 302.8 371.4 300.5 371.1 298.8 370.2 296.8 368.5 294.5 365.7 291.5 360.2 287.2 357.8 285.9 355.8 285.4 354.8 285.6 354.3 286.2 353.3 289.5 351.7 291.5 348.8 293.3 345.2 294.6 341.2 295.1 337.2 294.5 334.8 293.2 333.0 290.8 332.4 289.2 332.4 287.5 334.2 284.2 334.5 282.8 333.8 276.5 334.1 272.5 334.8 270.5 335.9 268.5 337.2 267.1 338.8 265.9 340.2 265.4 341.8 265.3 345.2 265.9 348.5 267.8 353.2 272.0 354.8 272.8 356.5 272.9 361.1 270.5 362.8 269.9 370.8 269.1 373.8 268.5 383.0 264.5 388.8 261.4 396.2 259.4 404.5 255.9 407.5 256.0 412.8 257.2 418.2 260.8 419.4 262.2 420.3 263.8 422.2 268.5 423.3 276.8 425.2 280.9 426.9 283.2 428.2 285.5 431.5 288.2 444.0 296.5 445.8 298.2 449.2 302.2 454.2 305.8 468.2 312.7 471.8 315.8 473.3 318.8 472.9 320.8 470.5 324.5 467.8 326.7 466.8 327.0 465.8 326.9 454.4 322.2 432.5 314.5 427.2 310.9 424.2 309.6 418.5 304.6 411.2 299.9 408.5 299.3 404.5 299.5 396.8 299.0 392.5 299.3 389.6 299.8 386.8 300.8 384.5 302.2 382.8 303.9 382.1 305.2 381.6 306.8 381.5 315.5 380.9 318.5 380.0 321.2 378.6 323.8 376.8 325.9 374.5 327.7Z"/>
<path fill="#00FFC4" d="M466.8 326.2 465.2 326.0 454.5 321.6 432.8 314.0 427.2 310.1 424.8 309.2 420.8 304.9 417.5 301.8 413.5 298.5 411.8 297.7 408.8 296.9 389.8 296.6 383.8 296.9 379.2 296.4 374.8 292.8 369.6 286.5 363.2 280.2 362.5 278.8 362.2 276.8 362.2 274.8 362.8 273.2 363.6 272.2 364.7 271.5 373.8 269.1 385.5 264.5 389.5 262.5 396.5 260.5 404.5 256.4 407.5 256.5 413.2 257.7 417.8 261.0 419.5 263.2 421.6 268.2 422.8 276.8 424.8 281.3 426.6 283.5 427.8 285.9 431.0 288.5 443.8 297.0 449.2 302.7 453.8 306.1 455.8 307.3 467.2 312.7 470.0 314.8 471.3 316.2 472.6 318.8 472.7 319.8 472.4 320.8 470.0 324.2 468.2 325.6ZM344.2 293.9 340.2 294.1 336.5 293.2 335.2 292.5 334.2 291.5 333.2 289.2 333.6 287.5 336.2 284.5 336.9 283.2 336.8 281.8 335.3 276.2 335.3 273.8 335.8 271.8 336.5 270.2 337.9 268.5 339.5 267.3 341.2 266.9 342.8 266.9 344.5 267.3 346.1 268.2 347.5 269.3 348.8 270.8 349.7 272.5 350.8 276.2 350.6 278.2 348.8 282.2 348.5 283.5 348.8 284.5 350.7 287.8 350.7 289.8 349.8 291.2 348.5 292.2 346.5 293.2ZM372.2 325.2 370.8 325.4 369.5 325.0 368.2 324.1 367.2 323.0 365.8 319.5 365.6 315.5 366.7 312.2 368.8 309.6 371.5 308.0 374.5 307.7 376.8 308.5 378.0 309.8 379.1 312.8 379.2 316.2 378.4 319.2 376.8 322.0 374.5 324.2Z"/>
<path fill="#00FFB4" d="M466.8 325.5 464.8 325.2 454.5 321.0 432.8 313.4 427.2 309.2 425.2 308.5 421.8 304.4 416.8 299.0 414.5 296.8 412.8 295.9 409.5 294.8 394.5 294.3 385.8 292.9 384.2 292.3 377.2 287.9 366.3 278.8 365.5 277.8 365.0 276.5 364.7 274.5 365.0 273.5 366.5 272.4 378.5 267.6 396.8 261.3 404.8 256.8 407.5 256.9 412.8 257.9 417.4 261.2 418.8 262.8 421.2 268.5 422.3 276.8 424.4 281.5 426.2 283.8 426.9 285.5 427.5 286.3 430.8 289.1 443.5 297.4 448.8 302.9 453.8 306.6 466.8 313.0 470.6 316.2 471.9 318.8 471.9 320.5 469.8 323.6ZM343.5 293.2 340.2 293.3 337.2 292.6 335.2 291.4 334.5 290.5 334.2 289.5 334.4 288.5 335.3 287.2 339.3 284.2 340.2 283.2 340.1 282.5 338.2 279.9 337.2 278.0 336.6 276.2 336.5 274.2 337.1 271.8 338.1 270.2 339.7 268.8 341.5 268.2 343.8 268.5 346.2 270.0 347.8 272.2 348.5 274.8 348.3 276.5 347.6 278.2 346.5 279.9 344.2 282.5 344.0 283.2 344.7 284.2 347.2 286.1 348.5 287.5 349.0 288.5 349.0 289.8 348.4 290.8 347.2 291.9 345.5 292.7ZM372.5 322.2 370.5 322.1 368.8 320.7 367.7 318.5 367.4 316.2 367.9 313.8 369.2 312.0 371.2 310.7 373.2 310.4 375.2 311.0 376.5 312.1 377.3 313.8 377.5 315.8 376.9 318.2 375.8 320.0 374.2 321.5Z"/>
<path fill="#00FF98" d="M467.2 324.6 466.2 324.8 464.9 324.5 454.5 320.4 433.2 312.8 427.2 308.2 425.3 307.5 422.5 303.7 417.8 298.1 415.7 295.8 414.1 294.8 410.2 293.5 394.8 292.7 386.8 290.4 385.2 289.7 377.8 285.7 367.5 277.9 366.3 276.2 366.0 274.8 366.2 273.8 366.9 273.2 369.2 271.9 378.5 268.1 388.0 265.2 390.5 264.1 397.2 261.9 404.8 257.3 407.5 257.3 412.8 258.4 417.2 261.5 418.5 263.2 420.6 268.5 421.9 276.8 424.1 281.8 425.8 284.2 426.4 285.8 427.2 286.8 430.2 289.3 443.1 297.8 448.7 303.5 453.5 307.0 466.5 313.5 470.1 316.5 471.3 319.2 471.3 320.5 469.5 323.0ZM343.2 279.6 341.5 279.7 339.8 278.9 338.5 277.3 337.9 275.5 337.9 273.5 338.5 271.8 339.8 270.3 341.5 269.6 343.2 269.7 344.8 270.5 346.2 272.1 346.7 273.8 346.7 275.5 346.0 277.2 344.8 278.6ZM343.2 292.5 339.8 292.6 337.2 291.8 336.2 291.1 335.5 290.2 335.3 289.5 335.6 288.5 337.3 286.8 340.2 285.6 342.8 285.6 345.2 286.4 347.3 288.2 347.6 289.2 347.6 289.8 346.9 290.8 346.1 291.5ZM373.5 319.5 372.2 319.8 370.8 319.4 369.8 318.4 369.3 317.2 369.2 315.5 369.7 314.2 370.5 313.1 371.8 312.5 373.2 312.4 374.3 312.8 375.2 313.7 375.7 314.8 375.8 316.2 375.4 317.5 374.5 318.8Z"/>
<path fill="#00FF78" d="M467.2 323.5 466.2 323.8 464.8 323.5 454.8 319.6 433.5 312.0 429.0 308.8 427.5 307.4 425.7 306.5 423.2 302.8 418.9 297.5 416.8 295.2 415.2 294.2 410.5 292.9 406.2 292.9 394.8 292.0 387.2 289.6 385.2 288.7 378.5 285.1 369.5 278.6 367.4 276.5 366.9 275.2 367.0 274.2 369.5 272.1 378.5 268.5 388.3 265.5 397.5 262.3 404.8 257.9 407.2 257.8 412.5 258.8 416.6 261.8 417.8 263.4 419.9 268.5 421.4 276.8 423.4 281.5 425.2 284.5 426.1 286.8 429.8 290.2 442.6 298.5 448.4 304.2 453.2 307.8 466.0 314.2 468.8 316.3 470.0 318.2 470.4 320.2 468.8 322.4ZM342.5 277.6 341.5 277.5 340.5 277.0 339.7 276.2 339.3 274.8 339.4 273.5 339.8 272.4 340.8 271.5 341.8 271.1 342.8 271.2 344.0 271.8 344.8 272.8 345.1 273.8 345.0 275.2 344.5 276.2 343.5 277.2ZM342.8 291.9 340.5 292.0 338.2 291.4 336.7 290.2 336.7 288.8 338.0 287.5 340.2 286.7 342.5 286.7 344.5 287.3 346.0 288.5 346.2 289.8 344.9 291.2ZM372.8 316.7 372.2 316.7 371.8 316.4 371.7 315.8 372.2 315.2 372.8 315.2 373.2 315.5 373.2 316.2Z"/>
<path fill="#00FF50" d="M466.8 322.3 465.8 322.5 464.8 322.2 433.5 311.0 429.8 308.5 427.8 306.5 426.3 305.5 424.5 302.5 421.6 298.8 417.9 294.5 416.5 293.6 410.8 292.5 406.2 292.4 395.2 291.5 392.2 290.7 385.5 288.2 378.8 284.5 369.8 278.0 368.0 276.2 367.6 275.2 367.8 274.2 368.6 273.2 369.8 272.3 378.8 268.7 397.5 262.8 404.8 258.6 407.2 258.4 409.5 258.6 411.8 259.3 415.8 262.3 417.0 263.8 418.9 268.8 420.9 276.5 424.1 284.5 424.4 286.5 425.0 287.5 429.2 291.2 441.8 299.5 447.7 305.2 452.5 308.8 457.8 311.6 465.2 314.9 467.8 316.8 468.8 318.2 469.1 319.8 468.2 321.3ZM342.2 291.2 340.2 291.2 338.8 290.7 338.0 289.8 338.1 288.8 339.2 288.0 340.8 287.6 342.5 287.7 343.8 288.2 344.5 288.8 344.6 289.8 343.8 290.6Z"/>
<path fill="#00F000" d="M422.8 293.3 420.5 293.3 414.8 292.2 405.8 292.0 395.5 291.1 392.5 290.3 385.8 287.7 378.8 283.7 369.5 276.8 368.5 275.5 368.5 274.2 369.1 273.2 370.2 272.5 378.8 269.1 397.8 263.2 402.5 260.2 404.5 259.4 406.5 259.0 410.2 259.5 412.2 260.5 415.2 263.1 416.6 265.5 422.9 284.2 423.6 291.8 423.4 292.8ZM342.2 289.8 340.8 290.0 340.1 289.5 340.5 289.1 341.5 288.9 342.2 289.2 342.4 289.5ZM446.2 312.5 444.2 312.7 440.8 312.3 434.2 310.4 431.5 308.9 429.7 307.5 427.7 304.5 427.6 303.8 428.2 303.5 429.2 303.5 433.5 304.0 437.8 305.0 442.2 306.6 445.2 308.3 446.9 309.8 447.4 310.8 447.4 311.5 446.9 312.2ZM465.8 320.5 461.5 320.0 456.2 318.3 451.5 316.2 450.1 315.2 449.6 314.2 450.2 313.6 451.2 313.2 455.5 313.0 458.8 313.7 463.1 315.2 465.7 316.5 467.5 318.5 467.6 319.2 467.3 319.8Z"/>
<path fill="#60FF00" d="M412.5 291.5 405.8 291.5 395.2 290.6 387.4 287.8 385.2 286.8 379.5 283.4 371.8 277.8 369.5 275.8 369.1 274.8 369.2 273.8 370.2 272.8 378.8 269.5 397.8 263.6 403.5 260.3 406.2 259.8 409.8 260.1 412.2 261.7 414.5 263.8 415.2 264.8 417.5 271.5 420.6 278.5 421.9 283.8 421.8 285.8 421.1 289.5 420.5 290.6 418.8 291.2ZM440.2 310.6 437.2 310.5 433.9 309.5 431.2 307.8 430.4 306.8 430.3 306.2 431.2 305.8 433.5 305.9 436.2 306.5 438.8 307.4 440.7 308.5 441.5 309.5 441.2 310.2ZM463.2 318.6 460.8 318.8 458.1 318.2 455.1 316.8 454.4 315.8 455.2 315.2 456.8 315.0 460.8 315.6 462.5 316.3 463.8 317.2 464.0 317.8Z"/>
<path fill="#84FF00" d="M412.5 290.8 406.5 291.1 401.5 290.8 395.2 290.1 392.5 289.3 385.9 286.5 379.4 282.5 370.5 275.8 369.9 274.8 369.8 273.8 371.2 272.8 379.1 269.8 398.2 264.0 403.2 261.0 406.2 260.5 409.5 260.8 411.7 262.5 414.2 265.2 416.6 271.8 419.8 278.2 421.1 283.2 420.5 285.9 419.5 288.5 418.8 289.3 417.5 290.0ZM436.8 308.9 434.3 308.5 433.4 307.8 433.5 307.5 436.1 307.8 437.2 308.5Z"/>
<path fill="#98FF00" d="M411.2 290.2 406.2 290.4 401.8 290.2 395.2 289.5 393.0 288.8 386.3 285.8 380.1 281.8 371.8 275.5 371.0 274.5 371.0 273.8 379.3 270.5 386.1 268.2 398.5 264.6 403.2 261.7 405.8 261.4 408.8 261.6 410.8 263.2 413.1 265.8 415.4 272.2 418.8 278.2 419.9 282.8 419.5 284.6 417.5 288.2 416.3 288.8Z"/>
<path fill="#B4FF00" d="M402.8 288.9 394.8 288.3 387.7 284.8 385.8 283.5 379.4 277.5 378.1 275.8 378.1 274.8 379.7 273.5 383.0 271.5 390.5 267.8 399.5 265.4 403.8 263.6 405.8 263.6 407.8 264.1 409.8 265.8 410.8 267.5 413.2 273.6 415.8 279.5 416.1 282.8 414.7 285.5 411.0 287.5 407.5 288.4Z"/>
<path fill="#CCFF00" d="M402.5 286.8 399.8 287.0 395.2 286.7 390.2 284.2 387.8 282.2 384.5 277.8 383.7 276.2 384.0 275.2 387.5 271.8 390.5 269.6 392.2 268.8 397.5 267.2 404.5 266.5 406.5 267.0 407.8 268.6 409.8 273.2 411.4 278.8 411.8 281.8 410.8 283.2 409.1 284.5 406.2 285.7Z"/>
<path fill="#DEFF00" d="M400.5 285.2 396.2 285.1 394.5 284.7 391.0 282.5 389.0 279.5 387.8 277.2 387.8 275.8 389.4 273.5 391.4 271.2 392.5 270.3 396.5 268.8 398.2 268.6 403.5 269.3 404.8 270.2 405.7 271.5 406.8 273.8 407.2 275.5 407.5 278.8 407.2 280.8 406.6 281.8 405.3 282.8 401.8 284.8Z"/>
<path fill="#F0FF00" d="M399.5 283.5 395.8 283.4 392.8 281.6 391.8 280.3 390.6 276.8 391.0 275.2 392.8 272.2 393.8 271.4 397.2 270.2 399.8 270.6 402.2 271.5 403.4 273.5 404.3 275.5 404.3 277.2 403.8 280.5 400.8 283.1Z"/>
<path fill="#FFFF10" d="M399.5 280.9 398.2 281.1 396.5 280.9 395.1 280.2 394.2 279.2 393.5 277.2 393.5 276.2 394.5 274.2 395.5 273.4 397.2 272.8 398.5 272.8 400.2 273.5 401.0 274.5 401.7 276.5 401.4 278.8 400.8 279.8Z"/>
</g><!--PLUME1-->
<!--SITE0--><g id="site">
<path fill="#0078FF" d="M573.0 369.7L581.4 361.7L589.8 369.7L581.4 377.7Z"/>
<path fill="#00A8FF" d="M573.6 369.7L581.4 362.3L589.2 369.7L581.4 377.1Z"/>
<path fill="#00E4FF" d="M574.2 369.7L581.4 362.9L588.6 369.7L581.4 376.5Z"/>
<path fill="#00FFC4" d="M574.9 369.7L581.4 363.6L587.9 369.7L581.4 375.8Z"/>
<path fill="#00FF50" d="M575.6 369.7L581.4 364.3L587.2 369.7L581.4 375.1Z"/>
<path fill="#60FF00" d="M576.6 369.7L581.4 365.2L586.2 369.7L581.4 374.2Z"/>
<path fill="#B4FF00" d="M577.5 369.7L581.4 366.1L585.3 369.7L581.4 373.3Z"/>
<path fill="#F0FF00" d="M578.4 369.7L581.4 366.9L584.4 369.7L581.4 372.5Z"/>
<path fill="#FFFF10" d="M579.4 369.7L581.4 367.9L583.4 369.7L581.4 371.5Z"/>
<path d="M579.5 357V381M568 369.5H592M568.5 357.5L591.5 380.5M591.5 357.5L568.5 380.5" stroke="#000" stroke-width="1" fill="none" shape-rendering="crispEdges"/>
</g><!--SITE1-->
<!--COAST0--><g id="coast" fill="none" stroke="#000" stroke-width="1" stroke-linejoin="round" stroke-linecap="butt" shape-rendering="crispEdges">
<path d="M124.6 202.1 140.8 203.1 152.3 204.2 158.5 210.4 164.8 212.3 176.2 213.3 182.5 217.5 189.8 218.5 199.2 218.1 200.2 220.2 207.5 221.7 217.9 217.1 228.3 213.3 240.8 210.8 251.2 208.3 261.7 206.2 270.0 206.3 286.4 204.3 304.2 200.2 316.5 190.7 328.8 186.0 327.4 179.7 322.8 174.3 324.7 164.7 330.7 160.6 342.5 162.0 357.5 167.4 365.7 164.7 378.0 157.0 390.3 155.1 404.0 149.7 406.7 144.2 417.7 139.5 425.9 139.5 428.6 136.0 439.5 134.1 450.5 132.7 458.7 134.6 469.6 130.5 454.6 115.5"/>
<path d="M494.2 274.7 492.2 272.3 495.0 269.7 501.2 268.4 502.0 263.0 498.1 260.9 495.8 260.3 498.1 257.5 502.0 255.2 505.2 251.2 509.8 246.6 511.4 242.7 508.3 238.0 504.8 233.8 502.0 235.3 496.6 235.6 491.1 237.5 486.4 241.1 481.7 246.6 477.8 248.9 471.6 251.6 466.9 253.6 463.0 256.2 460.9 261.4 457.5 264.5 451.2 266.6 443.4 266.9 436.4 266.1 432.5 270.0 430.6 276.2 433.3 280.9 438.8 285.6 445.0 288.0 450.5 290.3 452.8 296.6 457.5 301.2 463.0 303.3 467.7 302.8 471.6 298.9 477.0 294.2 482.5 291.9 486.9 290.3 489.5 293.4 495.0 295.3 499.7 297.3 506.7 297.0 509.1 295.5 510.6 297.0 517.7 297.8 516.9 302.8 513.8 308.3 510.6 305.2 505.2 305.9 501.2 308.8 495.0 309.8 488.8 312.2 487.2 315.3 483.3 318.1 482.2 321.2 478.6 319.2 474.7 320.8 473.1 326.2 468.4 328.6 465.3 331.7 463.6 334.8 459.7 339.5 458.4 343.4 460.5 345.8 465.9 348.1 471.4 350.5 476.1 352.0 480.0 355.9 482.3 362.2 484.7 368.4 487.0 373.9 489.1 377.0 489.1 380.2 491.7 382.5 495.6 385.6 496.4 388.8 501.1 391.9 504.2 395.8 505.8 397.8 501.9 398.4 495.6 396.6 490.2 395.0 483.9 392.7 481.6 391.9 475.3 392.7 474.5 394.2 481.6 393.4 486.2 394.2 491.7 397.3 494.8 401.2 498.8 403.6 502.7 405.9 505.5 409.8 505.0 412.2 500.3 413.0 497.2 415.3 492.5 416.9 490.2 420.0 486.2 421.6 481.6 422.3 477.7 421.6 475.8 423.9 477.7 422.3 483.1 423.9 487.0 425.5 491.7 422.3 496.4 423.9 498.8 426.2 501.1 427.8 506.6 429.1 504.2 431.7 501.1 434.8 498.0 436.4 502.7 434.8 504.7 437.0 503.1 440.9 497.7 441.7 500.0 444.8 498.4 449.5 497.7 455.0 495.3 458.9 492.2 457.8 489.8 458.9 485.9 462.8 482.0 467.5 481.2 473.0 477.3 477.7 472.7 481.6 471.1 487.8 469.5 488.1 468.8 483.9 465.6 483.4 463.3 485.0 465.6 488.6 466.4 492.5 464.8 498.0 462.5 502.7 461.7 506.6 458.6 506.2 456.2 508.1 453.9 511.2 451.6 514.4 448.4 519.8 446.1 522.5 437.5 523.0 436.2 525.3 437.2 528.4 433.6 531.6 429.7 534.4 427.3 537.8 425.8 536.2 421.9 538.6 417.2 539.4 414.1 544.1 410.2 549.7 406.1 550.9 401.2 553.2 394.4 553.2 393.0 555.5 389.5 555.2 386.6 552.2 385.5 553.2 383.6 555.5 378.7 554.2 377.7 557.1 374.8 556.1 372.8 559.1 369.9 558.1 368.9 561.0 367.0 560.0 365.0 557.5 359.1 555.2 358.2 552.2 357.2 563.0 353.3 560.0 349.8 556.1 347.8 559.1 347.0 567.9 341.6 570.4 335.7 572.3 327.9 571.8 322.0 575.7 314.2 576.6 308.4 579.2 302.1 578.6 299.6 583.5 300.5 589.3 302.9 592.3 302.1 596.2 297.6 597.7 293.7 595.2 291.2 590.3 288.4 582.5 290.4 576.6 287.9 574.7 283.9 577.6 280.0 576.6 276.1 573.7 270.3 572.7 265.5 575.1 259.6 576.6 254.8 572.7 247.0 571.8 241.1 568.8 237.2 565.9 236.8 558.1 240.1 552.2 233.3 551.2 222.5 549.3 218.6 545.4 215.1 542.5 207.9 545.4 202.0 549.3 196.2 552.8 194.2 550.3 189.3 554.8 181.5 553.2 174.7 557.5 171.2 556.1 165.9 552.6 163.0 556.1 158.1 559.1 152.2 559.5 149.7 564.9 152.2 571.8 151.2 575.7 154.2 580.5 148.3 580.2 141.5 579.2 138.6 575.7 137.6 573.1 135.6 574.7 124.9 574.7"/>
<path d="M494.2 274.7 501.2 271.9 506.7 269.7 510.6 265.3 513.8 262.5 520.0 261.4 527.8 258.3 531.2 255.6 534.0 257.3 540.9 255.5 548.0 254.2"/>
<path d="M548.0 254.2 550.3 250.0 553.4 245.3 558.9 241.9 565.9 238.8 575.3 234.4 583.1 227.8 590.9 221.1 596.4 216.4 598.8 221.1 604.2 223.4 611.2 223.4 617.2 223.4 615.9 218.4 622.2 216.9 626.9 215.6 633.1 212.8 639.4 210.6 642.5 210.3"/>
<path d="M548.0 254.2 553.4 258.6 558.9 258.1 568.3 259.4 566.7 265.6 564.7 271.1 565.2 274.7 567.5 275.0 563.6 277.3 558.9 279.7 558.1 283.6 555.8 285.6 562.0 286.4 562.8 289.1 565.2 289.8 565.6 292.2 567.5 292.2 570.9 289.8 571.9 286.7 575.3 289.1 580.0 291.1 584.7 290.3 587.0 295.3 590.2 299.2 591.7 303.9 593.3 307.5 590.2 305.5 584.7 306.1 580.0 307.6 579.7 310.8 582.3 313.0 583.9 310.2 585.5 311.7 586.2 316.4 588.6 321.1 590.2 324.2 587.8 328.1 585.5 333.6 583.9 338.3 584.7 341.4 583.1 343.0 583.9 345.3 582.3 346.9 581.9 350.0 583.1 351.2 584.7 349.7 589.4 348.4 592.5 346.1 596.4 345.3 598.8 346.9 601.1 344.5 603.4 346.1 606.6 343.0 608.1 340.3 611.2 339.1 615.2 339.8 618.3 341.9 619.8 339.8 622.2 337.5 626.9 337.5 631.6 335.9 635.5 332.8 637.8 328.9 640.2 323.4 639.4 317.2 637.8 311.7 638.6 303.9 637.5 298.4 634.7 293.8 630.0 289.1 624.5 284.4 622.2 279.7 619.4 276.6 615.9 272.7 610.5 270.3 605.0 266.4 602.2 263.3 604.7 260.2 603.9 256.2 608.1 253.9 612.8 250.8 619.8 250.3 625.3 246.1 631.6 242.5 637.8 238.3 642.5 236.2"/>
<path d="M584.7 290.3 591.7 287.5 597.2 284.4 603.4 282.5 609.7 283.1 615.2 282.0 619.1 279.7 619.4 276.6"/>
<path d="M492.2 511.2 494.5 510.2 497.7 510.5 500.0 512.0 503.9 512.5 504.7 514.4 503.1 516.7 503.1 522.2 501.6 525.3 500.5 527.8 498.9 535.6 497.3 543.4 492.7 552.2 488.2 557.1 486.2 564.9 485.2 568.4 482.9 562.0 479.4 558.1 475.5 554.2 474.5 545.4 472.9 536.6 475.8 532.3 480.5 526.9 485.2 520.6 489.1 515.2 492.2 511.2"/>
<path d="M158.1 559.1 162.0 564.9 167.9 568.8 172.3 571.8 170.8 578.6 176.6 584.5 178.6 586.4 186.4 585.8 194.2 585.4 200.1 588.4 199.1 593.2 203.0 597.7"/>
<path d="M259.6 576.6 254.8 578.6 249.9 580.9 247.9 584.5 242.1 587.4 237.2 591.3 235.2 595.2 234.8 597.7"/>
<path d="M124.9 577.0 135.6 576.6 137.6 573.1"/>
<path d="M124.9 583.5 127.8 578.6 134.6 577.6"/>
<path d="M124.9 594.2 133.3 593.8 133.3 597.7"/>
<path d="M581.5 366.5 592.5 366.3 594.0 367.8 593.2 369.5 590.5 370.2 589.5 371.4 582.0 371.6 581.0 370.4 581.0 367.5 581.5 366.5"/>
<path d="M636.0 351.0 635.7 349.0 637.0 346.5 638.4 346.0 638.6 347.5 637.6 350.0 636.0 351.0"/>
<path d="M633.5 355.8 633.2 354.0 634.3 351.6 635.8 351.0 636.0 352.5 635.0 355.0 633.5 355.8"/>
<path d="M630.0 375.5 631.6 373.6 633.3 374.4 632.8 377.0 630.6 377.3 630.0 375.5"/>
<path d="M624.5 381.2 626.0 380.2 627.0 381.2 625.6 382.5 624.5 381.2"/>
<path d="M634.6 456.5 636.0 454.1 640.3 453.2 641.0 455.1 638.1 458.4 635.3 458.4 634.6 456.5"/>
<path d="M627.4 463.0 628.5 467.6"/>
<path d="M606.6 490.9 608.8 485.9 611.6 484.2 615.2 482.3 615.6 484.5 613.1 487.3 610.2 490.9 607.6 494.5 606.6 490.9"/>
<path d="M564.4 517.4 564.6 520.3 566.5 520.0 566.2 518.6 564.6 518.8"/>
<path d="M543.6 525.0 545.0 523.4 546.4 524.6 544.6 526.5 543.6 525.0"/>
<path d="M536.7 525.0 538.0 523.9 539.2 525.0 537.8 526.2 536.7 525.0"/>
<rect x="363" y="562.5" width="2.2" height="2" fill="#000" stroke="none"/><rect x="367.5" y="562.5" width="2.4" height="2" fill="#000" stroke="none"/>
</g><!--COAST1-->
<g id="grid" stroke="#000" stroke-width="1" shape-rendering="crispEdges" stroke-dasharray="3 1.5" fill="none">
<path d="M207.5 116V597M295.5 116V597M383.5 116V597M471.5 116V597M559.5 116V597"/>
<path d="M125 163.5H642M125 251.5H642M125 339.5H642M125 426.5H642M125 514.5H642"/>
</g>
<rect x="124.5" y="115.5" width="518" height="482" fill="none" stroke="#000" stroke-width="1" shape-rendering="crispEdges"/>
<g id="cbar" shape-rendering="crispEdges">
<rect x="37.20" y="606" width="11.21" height="21" fill="#FFFFFF"/>
<rect x="47.91" y="606" width="11.21" height="21" fill="#FFF0FF"/>
<rect x="58.62" y="606" width="11.21" height="21" fill="#FFE0FF"/>
<rect x="69.34" y="606" width="11.21" height="21" fill="#FDD0FF"/>
<rect x="80.05" y="606" width="11.21" height="21" fill="#FAC0FF"/>
<rect x="90.76" y="606" width="11.21" height="21" fill="#F5B0FD"/>
<rect x="101.47" y="606" width="11.21" height="21" fill="#EE90FA"/>
<rect x="112.18" y="606" width="11.21" height="21" fill="#E070F8"/>
<rect x="122.90" y="606" width="11.21" height="21" fill="#D235F8"/>
<rect x="133.61" y="606" width="11.21" height="21" fill="#C000F5"/>
<rect x="144.32" y="606" width="11.21" height="21" fill="#B400FA"/>
<rect x="155.03" y="606" width="11.21" height="21" fill="#A000F5"/>
<rect x="165.75" y="606" width="11.21" height="21" fill="#8A00FF"/>
<rect x="176.46" y="606" width="11.21" height="21" fill="#6A00FF"/>
<rect x="187.17" y="606" width="11.21" height="21" fill="#4A00FF"/>
<rect x="197.88" y="606" width="11.21" height="21" fill="#2C00FF"/>
<rect x="208.59" y="606" width="11.21" height="21" fill="#0A00FF"/>
<rect x="219.31" y="606" width="11.21" height="21" fill="#0040FF"/>
<rect x="230.02" y="606" width="11.21" height="21" fill="#0078FF"/>
<rect x="240.73" y="606" width="11.21" height="21" fill="#0094FF"/>
<rect x="251.44" y="606" width="11.21" height="21" fill="#00A8FF"/>
<rect x="262.15" y="606" width="11.21" height="21" fill="#00BCFF"/>
<rect x="272.87" y="606" width="11.21" height="21" fill="#00D0FF"/>
<rect x="283.58" y="606" width="11.21" height="21" fill="#00E4FF"/>
<rect x="294.29" y="606" width="11.21" height="21" fill="#00F0FF"/>
<rect x="305.00" y="606" width="11.21" height="21" fill="#00FFFC"/>
<rect x="315.72" y="606" width="11.21" height="21" fill="#00FFE4"/>
<rect x="326.43" y="606" width="11.21" height="21" fill="#00FFD4"/>
<rect x="337.14" y="606" width="11.21" height="21" fill="#00FFC4"/>
<rect x="347.85" y="606" width="11.21" height="21" fill="#00FFB4"/>
<rect x="358.56" y="606" width="11.21" height="21" fill="#00FF98"/>
<rect x="369.28" y="606" width="11.21" height="21" fill="#00FF78"/>
<rect x="379.99" y="606" width="11.21" height="21" fill="#00FF50"/>
<rect x="390.70" y="606" width="11.21" height="21" fill="#00F000"/>
<rect x="401.41" y="606" width="11.21" height="21" fill="#60FF00"/>
<rect x="412.12" y="606" width="11.21" height="21" fill="#84FF00"/>
<rect x="422.84" y="606" width="11.21" height="21" fill="#98FF00"/>
<rect x="433.55" y="606" width="11.21" height="21" fill="#B4FF00"/>
<rect x="444.26" y="606" width="11.21" height="21" fill="#CCFF00"/>
<rect x="454.97" y="606" width="11.21" height="21" fill="#DEFF00"/>
<rect x="465.68" y="606" width="11.21" height="21" fill="#F0FF00"/>
<rect x="476.40" y="606" width="11.21" height="21" fill="#FFFF10"/>
<rect x="487.11" y="606" width="11.21" height="21" fill="#FFF000"/>
<rect x="497.82" y="606" width="11.21" height="21" fill="#FFE400"/>
<rect x="508.53" y="606" width="11.21" height="21" fill="#FFD800"/>
<rect x="519.25" y="606" width="11.21" height="21" fill="#FFC800"/>
<rect x="529.96" y="606" width="11.21" height="21" fill="#FFB800"/>
<rect x="540.67" y="606" width="11.21" height="21" fill="#FFA400"/>
<rect x="551.38" y="606" width="11.21" height="21" fill="#FF9000"/>
<rect x="562.09" y="606" width="11.21" height="21" fill="#FF7400"/>
<rect x="572.81" y="606" width="11.21" height="21" fill="#FF5000"/>
<rect x="583.52" y="606" width="11.21" height="21" fill="#FF2000"/>
<rect x="594.23" y="606" width="11.21" height="21" fill="#FF0030"/>
<rect x="604.94" y="606" width="11.21" height="21" fill="#FF0058"/>
<rect x="615.65" y="606" width="11.21" height="21" fill="#FF0078"/>
<rect x="626.37" y="606" width="11.21" height="21" fill="#FF0084"/>
<rect x="637.08" y="606" width="11.21" height="21" fill="#FF0090"/>
<rect x="647.79" y="606" width="11.21" height="21" fill="#FF009C"/>
<rect x="658.50" y="606" width="11.21" height="21" fill="#FF00A8"/>
<rect x="669.22" y="606" width="11.21" height="21" fill="#EC00B0"/>
<rect x="679.93" y="606" width="11.21" height="21" fill="#DC00A8"/>
<rect x="690.64" y="606" width="11.21" height="21" fill="#CC00A0"/>
<rect x="701.35" y="606" width="11.21" height="21" fill="#B80098"/>
<rect x="712.06" y="606" width="11.21" height="21" fill="#A00088"/>
<rect x="722.78" y="606" width="11.21" height="21" fill="#880078"/>
<rect x="733.49" y="606" width="9.91" height="21" fill="#600058"/>
<path d="M102.1 606V627M166.3 606V627M230.4 606V627M294.5 606V627M358.6 606V627M422.8 606V627M486.9 606V627M551.0 606V627M615.1 606V627M679.3 606V627" stroke="#000" stroke-width="2" fill="none"/>
<rect x="38.0" y="606" width="705.4" height="21" fill="none" stroke="#000" stroke-width="2"/>
</g>
</svg>
<div class="t b" style="left:17px;top:5.5px;font-size:20.85px">BC  source contributions in nested domain for gosan_201012</div>
<div class="t" style="left:24px;top:34px;font-size:19.77px">Start time of sampling 20101228. 30000</div>
<div class="t" style="left:400px;top:34px;font-size:19.77px">End time of sampling 20101228. 60000</div>
<div class="t" style="left:106px;top:60.7px;font-size:19.67px">Lower release height   82 m</div>
<div class="t" style="left:402.5px;top:60.7px;font-size:19.77px">Upper release height   62 m</div>
<div class="t" style="left:127px;top:86.3px;font-size:19.68px">Passive tracer used, meteorological data are from ECMWF</div>
<div id="lab1" class="t b" style="left:268.4px;top:218.6px;font-size:16.2px">1</div>
<!--BOTTOMTEXT-->
<div id="cbl">
<div class="t b" style="left:21px;top:629.5px;font-size:18px;letter-spacing:.5px">0.</div>
<div class="t b" style="left:101px;top:629.5px;font-size:18px;letter-spacing:.5px">2.</div>
<div class="t b" style="left:165.5px;top:629.5px;font-size:18px;letter-spacing:.5px">4.</div>
<div class="t b" style="left:229px;top:629.5px;font-size:18px;letter-spacing:.5px">8.</div>
<div class="t b" style="left:288px;top:629.5px;font-size:18px;letter-spacing:.5px">16.</div>
<div class="t b" style="left:351px;top:629.5px;font-size:18px;letter-spacing:.5px">31.</div>
<div class="t b" style="left:414.5px;top:629.5px;font-size:18px;letter-spacing:.5px">63.</div>
<div class="t b" style="left:473px;top:629.5px;font-size:18px;letter-spacing:.5px">125.</div>
<div class="t b" style="left:536px;top:629.5px;font-size:18px;letter-spacing:.5px">250.</div>
<div class="t b" style="left:600px;top:629.5px;font-size:18px;letter-spacing:.5px">500.</div>
<div class="t b" style="left:658px;top:629.5px;font-size:18px;letter-spacing:.5px">1000.</div>
<div class="t b" style="left:713px;top:629.5px;font-size:18px;letter-spacing:.5px">2000.</div>
</div>
<div class="t" style="left:309px;top:657.3px;font-size:19.77px">10E-10 pptv / m2</div>
<div class="t" style="left:64.6px;top:687.3px;font-size:19.77px">Maximum value</div>
<div class="t" style="left:213px;top:687.3px;font-size:19.77px">0.133E-07 pptv / m2</div>
<div class="t" style="left:429px;top:687.3px;font-size:19.77px">Total mixing ratio</div>
<div class="t" style="left:608.5px;top:687.3px;font-size:19.77px">936.6 pptv</div>
<div class="t" style="left:82px;top:711.5px;font-size:16.3px;letter-spacing:.6px;-webkit-text-stroke-width:.45px">American</div>
<div class="t" style="left:193px;top:711.5px;font-size:16.3px;letter-spacing:.6px;-webkit-text-stroke-width:.45px">0.0 pptv</div>
<div class="t" style="left:307px;top:711.5px;font-size:16.3px;letter-spacing:.6px;-webkit-text-stroke-width:.45px">European</div>
<div class="t" style="left:418px;top:711.5px;font-size:16.3px;letter-spacing:.6px;-webkit-text-stroke-width:.45px">0.0 pptv</div>
<div class="t" style="left:532px;top:711.5px;font-size:16.3px;letter-spacing:.6px;-webkit-text-stroke-width:.45px">Asian</div>
<div class="t" style="left:604px;top:711.5px;font-size:16.3px;letter-spacing:.6px;-webkit-text-stroke-width:.45px">936.6 pptv</div>
<div class="t" style="left:56px;top:734.8px;font-size:16.3px;letter-spacing:.6px;-webkit-text-stroke-width:.45px">South American</div>
<div class="t" style="left:216px;top:734.8px;font-size:16.3px;letter-spacing:.6px;-webkit-text-stroke-width:.45px">0.0 pptv</div>
<div class="t" style="left:330px;top:734.8px;font-size:16.3px;letter-spacing:.6px;-webkit-text-stroke-width:.45px">African</div>
<div class="t" style="left:421px;top:734.8px;font-size:16.3px;letter-spacing:.6px;-webkit-text-stroke-width:.45px">0.0 pptv</div>
<div class="t" style="left:536.5px;top:734.8px;font-size:16.3px;letter-spacing:.6px;-webkit-text-stroke-width:.45px">Australian</div>
<div class="t" style="left:649px;top:734.8px;font-size:16.3px;letter-spacing:.6px;-webkit-text-stroke-width:.45px">0.0 pptv</div>
</body></html>
